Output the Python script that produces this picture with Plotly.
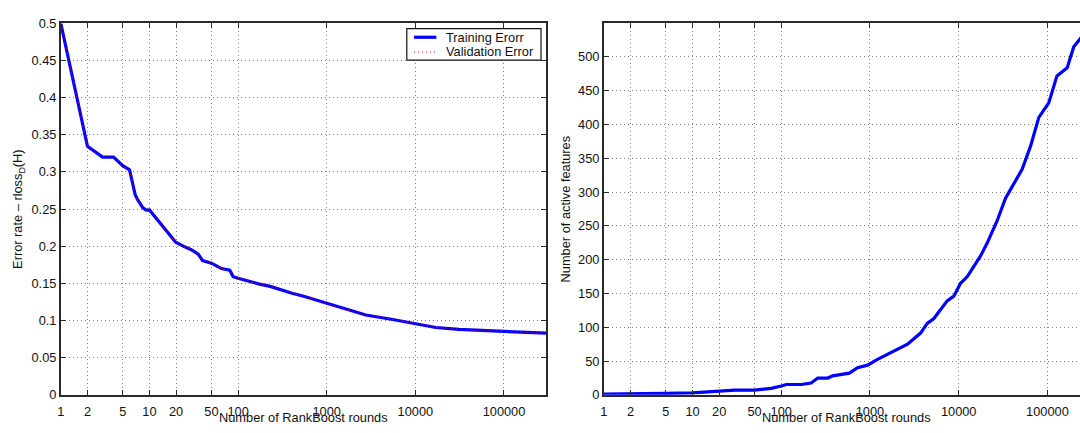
import plotly.graph_objects as go

# ---- data ----
rounds_err = [1, 2, 2.96, 3.94, 5.0, 5.96, 6.9, 7.33, 8.4, 9.18, 10, 12.1, 15, 19.8, 24.1, 30, 35.5, 39.8,
              50, 65, 80.6, 88, 100, 135, 175, 230, 294, 415, 537, 1000, 1660, 2760, 5550, 10000, 17000,
              31000, 57000, 100000, 300000]
train_err = [0.5, 0.3345, 0.320, 0.320, 0.3085, 0.303, 0.2696, 0.263, 0.252, 0.2488, 0.249, 0.237, 0.222,
             0.2054, 0.2002, 0.195, 0.1894, 0.1807, 0.1773, 0.170, 0.1677, 0.159, 0.157, 0.1526, 0.1490,
             0.1460, 0.1417, 0.1365, 0.1330, 0.1232, 0.1144, 0.1075, 0.1014, 0.0962, 0.0906,
             0.0880, 0.0863, 0.0854, 0.0830]
valid_err = [0.5, 0.3345, 0.320, 0.320, 0.3085, 0.303, 0.2696, 0.263, 0.252, 0.2488, 0.249, 0.237, 0.222,
             0.2054, 0.2002, 0.195, 0.1894, 0.1807, 0.1773, 0.170, 0.1677, 0.159, 0.157, 0.1526, 0.1490,
             0.1460, 0.1417, 0.1365, 0.1330, 0.1232, 0.1144, 0.1075, 0.1014, 0.0962, 0.0906,
             0.0880, 0.0863, 0.0854, 0.0830]

rounds_feat = [1, 3, 5, 10, 20, 30, 50, 77, 100, 114, 168, 208, 217, 258, 335, 380, 585, 725, 940, 1217,
               1870, 2650, 3720, 4420, 5250, 7420, 8810, 10500, 12500, 17700, 21000, 27200, 33700, 40100,
               52000, 64500, 80000, 103500, 128000, 167000, 198000, 234000, 300000]
active_feat = [1, 1, 2, 3, 5, 7, 7, 9.6, 13, 15.3, 15.3, 16.3, 17.5, 24.8, 24.8, 28, 32, 40, 43.9, 52.4,
               65, 75, 91.4, 105.7, 112.9, 139, 146, 165, 175, 206, 225, 258, 291, 308,
               334, 368, 410.6, 432, 472, 484, 515, 527, 548]

x_tickvals = [1, 2, 5, 10, 20, 50, 100, 1000, 10000, 100000]
x_ticktext = ["1", "2", "5", "10", "20", "50", "100", "1000", "10000", "100000"]
err_ticks = [0, 0.05, 0.1, 0.15, 0.2, 0.25, 0.3, 0.35, 0.4, 0.45, 0.5]
err_ticktext = ["0", "0.05", "0.1", "0.15", "0.2", "0.25", "0.3", "0.35", "0.4", "0.45", "0.5"]
feat_ticks = [0, 50, 100, 150, 200, 250, 300, 350, 400, 450, 500]
series_names = ["Training Erorr", "Validation Error"]

W, H = 1080, 433
FONT = "Liberation Sans, Arial, Helvetica, sans-serif"
FS = 12.8
TXT = "#111"


def px(x):
    return x / W


def py(y):
    return 1 - y / H


fig = go.Figure()
fig.add_trace(go.Scatter(x=rounds_err, y=train_err, mode="lines", name=series_names[0],
                         line=dict(color="#0000ff", width=3.2), xaxis="x", yaxis="y"))
fig.add_trace(go.Scatter(x=rounds_err, y=valid_err, mode="lines", name=series_names[1],
                         line=dict(color="#ff0000", width=1, dash="1px,4px"), xaxis="x", yaxis="y"))
fig.add_trace(go.Scatter(x=rounds_feat, y=active_feat, mode="lines",
                         line=dict(color="#0000ff", width=3.2), xaxis="x2", yaxis="y2"))

ydom = [py(400.7), py(16)]
common_axis = dict(showline=True, linecolor="#2a2a2a", linewidth=1.6, ticks="inside", ticklen=5,
                   tickcolor="#2a2a2a", showgrid=True, gridcolor="#808080", griddash="1px,3px",
                   gridwidth=1, zeroline=False, tickfont=dict(family=FONT, size=FS, color=TXT))

fig.update_layout(
    width=W, height=H, margin=dict(l=0, r=0, t=0, b=0),
    paper_bgcolor="white", plot_bgcolor="white", showlegend=False,
    font=dict(family=FONT, size=FS, color=TXT),
    xaxis=dict(common_axis, type="log", domain=[px(57), px(544.3)], range=[0, 5.4771],
               tickvals=x_tickvals, ticktext=x_ticktext, mirror="ticks", anchor="y",
               ticklabelstandoff=4),
    yaxis=dict(common_axis, domain=ydom, range=[0, 0.5], tickvals=err_ticks,
               ticktext=err_ticktext, mirror="ticks", anchor="x",
               title=dict(text="Error rate – rloss<sub>D</sub>(H)", standoff=6,
                          font=dict(family=FONT, size=FS, color=TXT))),
    xaxis2=dict(common_axis, type="log", domain=[px(602), 1.0], range=[0, 5.367],
                tickvals=x_tickvals, ticktext=x_ticktext, mirror="ticks", anchor="y2",
                ticklabelstandoff=4),
    yaxis2=dict(common_axis, domain=ydom, range=[0, 549.6], tickvals=feat_ticks,
                mirror=False, anchor="x2",
                title=dict(text="Number of active features", standoff=5,
                           font=dict(family=FONT, size=FS, color=TXT))),
)

# x-axis titles
for cx in (300.5, 846):
    fig.add_annotation(text="Number of RankBoost rounds", xref="paper", yref="paper",
                       x=px(cx), y=0, xanchor="center", yanchor="bottom", borderpad=0,
                       showarrow=False, font=dict(family=FONT, size=FS, color=TXT))

# legend box (drawn manually to match the compact MATLAB legend)
fig.add_shape(type="rect", xref="paper", yref="paper", x0=px(404.3), x1=px(539), y0=py(54), y1=py(21.3),
              line=dict(color="#111", width=1.2), fillcolor="white", layer="above")
fig.add_shape(type="line", xref="paper", yref="paper", x0=px(411.5), x1=px(434), y0=py(30.3), y1=py(30.3),
              line=dict(color="#0000ff", width=3.2), layer="above")
fig.add_shape(type="line", xref="paper", yref="paper", x0=px(411.5), x1=px(434), y0=py(45.7), y1=py(45.7),
              line=dict(color="#ff0000", width=1, dash="1px,3px"), layer="above")
for name, yy in zip(series_names, (30.3, 45.5)):
    fig.add_annotation(text=name, xref="paper", yref="paper", x=px(441.5), y=py(yy),
                       xanchor="left", yanchor="middle", showarrow=False,
                       font=dict(family=FONT, size=FS, color=TXT))

fig.write_html("out.html")
